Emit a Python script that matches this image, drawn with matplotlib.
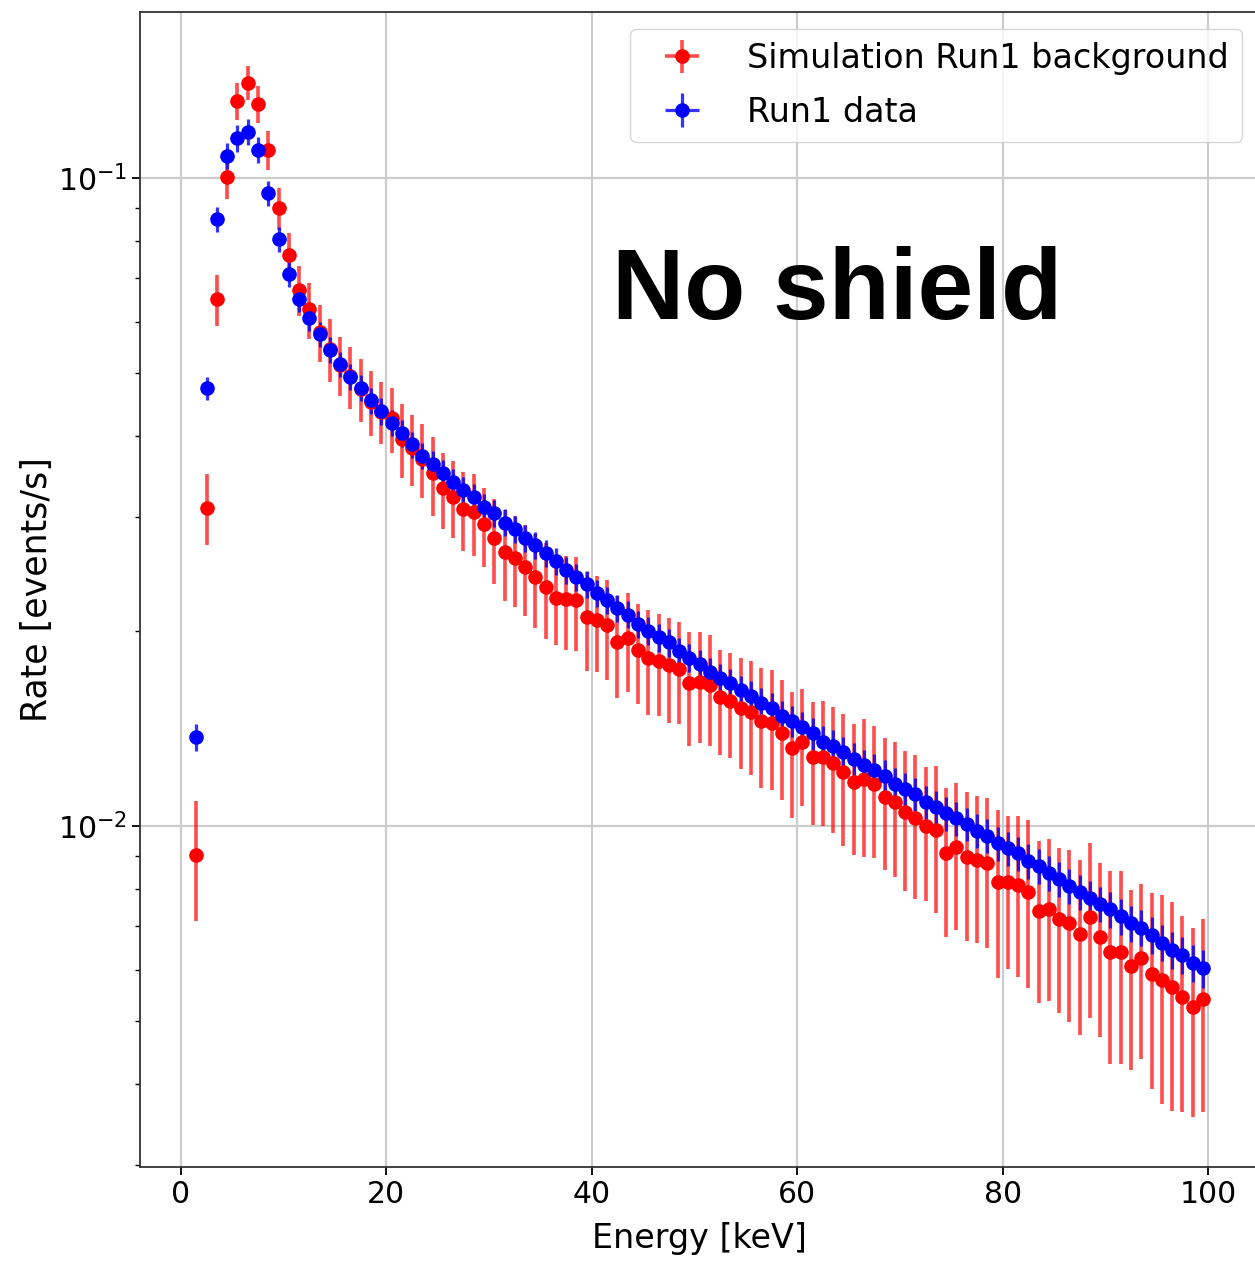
import numpy as np
import matplotlib
matplotlib.use("Agg")
import matplotlib.pyplot as plt

# bin centres [keV]
energy = np.arange(1.5, 100.0, 1.0)

# Run1 data (blue)
data_rate = [0.01372, 0.0474, 0.0864, 0.1081, 0.1153, 0.1178, 0.1105, 0.0948, 0.0805, 0.0711,
             0.0651, 0.0608, 0.0574, 0.0543, 0.0516, 0.0493, 0.0474, 0.0454, 0.0437, 0.0419,
             0.0404, 0.0388, 0.0373, 0.0362, 0.0351, 0.0340, 0.0330, 0.0322, 0.0311, 0.0304,
             0.0294, 0.0287, 0.0278, 0.0271, 0.0264, 0.0256, 0.0248, 0.0242, 0.0236, 0.0229,
             0.0223, 0.0217, 0.0212, 0.0205, 0.0200, 0.01955, 0.0192, 0.0186, 0.0182, 0.0178,
             0.0173, 0.0169, 0.0166, 0.0162, 0.0159, 0.0155, 0.0152, 0.0148, 0.01454, 0.0142,
             0.0139, 0.0135, 0.0133, 0.0130, 0.0127, 0.0124, 0.0122, 0.01195, 0.0116, 0.0114,
             0.0112, 0.0109, 0.0107, 0.01046, 0.01028, 0.01007, 0.00983, 0.00966, 0.00940, 0.00924,
             0.00908, 0.00884, 0.00868, 0.00847, 0.00829, 0.00808, 0.00792, 0.00774, 0.00758, 0.00744,
             0.00726, 0.00708, 0.00697, 0.00679, 0.00661, 0.00644, 0.00632, 0.00615, 0.00603]

# relative errors of the data points
data_relerr = [0.047, 0.042, 0.044, 0.046, 0.047, 0.047, 0.046, 0.045, 0.045, 0.045,
               0.045, 0.045, 0.045, 0.046, 0.046, 0.046, 0.046, 0.046, 0.047, 0.047,
               0.047, 0.047, 0.047, 0.047, 0.047, 0.047, 0.047, 0.047, 0.048, 0.048,
               0.048, 0.048, 0.048, 0.048, 0.048, 0.048, 0.048, 0.048, 0.048, 0.048,
               0.048, 0.048, 0.048, 0.049, 0.049, 0.050, 0.050, 0.050, 0.051, 0.051,
               0.052, 0.052, 0.053, 0.053, 0.054, 0.054, 0.055, 0.055, 0.055, 0.056,
               0.056, 0.056, 0.057, 0.057, 0.057, 0.058, 0.058, 0.058, 0.058, 0.059,
               0.059, 0.059, 0.059, 0.060, 0.060, 0.060, 0.060, 0.061, 0.061, 0.061,
               0.061, 0.062, 0.062, 0.062, 0.062, 0.062, 0.062, 0.063, 0.063, 0.063,
               0.064, 0.064, 0.064, 0.065, 0.065, 0.065, 0.066, 0.066, 0.066]

# Simulation Run1 background (red)
sim_rate = [0.00902, 0.0310, 0.0650, 0.1002, 0.1315, 0.1403, 0.1301, 0.1105, 0.0898, 0.0761,
            0.0672, 0.0627, 0.0578, 0.0545, 0.0515, 0.0495, 0.0473, 0.0452, 0.0436, 0.0426,
            0.0396, 0.0383, 0.0369, 0.0350, 0.0332, 0.0322, 0.0309, 0.0305, 0.0292, 0.0278,
            0.0265, 0.0259, 0.0251, 0.0242, 0.0234, 0.0225, 0.0224, 0.0223, 0.0210, 0.0208,
            0.0204, 0.0192, 0.0195, 0.0187, 0.0182, 0.0180, 0.0177, 0.0175, 0.0166, 0.0167,
            0.0165, 0.0158, 0.0156, 0.0152, 0.0150, 0.0145, 0.0144, 0.0139, 0.0132, 0.0135,
            0.0128, 0.0128, 0.0125, 0.0121, 0.0117, 0.0118, 0.0116, 0.0111, 0.0109, 0.0105,
            0.0103, 0.0100, 0.00986, 0.00910, 0.00929, 0.00897, 0.00886, 0.00876, 0.00820, 0.00820,
            0.00811, 0.00792, 0.00740, 0.00745, 0.00719, 0.00708, 0.00681, 0.00723, 0.00675, 0.00640,
            0.00640, 0.00609, 0.00625, 0.00591, 0.00578, 0.00564, 0.00544, 0.00526, 0.00540]

sim_relerr = [0.21, 0.125, 0.09, 0.075, 0.065, 0.06, 0.065, 0.07, 0.075, 0.08,
              0.09, 0.10, 0.10, 0.11, 0.105, 0.11, 0.11, 0.115, 0.11, 0.115,
              0.13, 0.125, 0.13, 0.14, 0.135, 0.135, 0.14, 0.145, 0.14, 0.15,
              0.16, 0.16, 0.16, 0.165, 0.17, 0.155, 0.165, 0.165, 0.175, 0.17,
              0.175, 0.18, 0.175, 0.175, 0.185, 0.18, 0.185, 0.18, 0.20, 0.195,
              0.195, 0.185, 0.185, 0.195, 0.20, 0.21, 0.21, 0.21, 0.22, 0.205,
              0.215, 0.22, 0.22, 0.23, 0.23, 0.24, 0.23, 0.23, 0.235, 0.245,
              0.25, 0.235, 0.255, 0.26, 0.255, 0.26, 0.255, 0.26, 0.29, 0.265,
              0.28, 0.29, 0.28, 0.28, 0.285, 0.295, 0.30, 0.30, 0.30, 0.33,
              0.33, 0.31, 0.30, 0.335, 0.355, 0.355, 0.335, 0.325, 0.33]

data_rate = np.array(data_rate)
sim_rate = np.array(sim_rate)
data_err = data_rate * np.array(data_relerr)
sim_err = sim_rate * np.array(sim_relerr)

fig = plt.figure(figsize=(12.55, 12.63), dpi=100)
ax = fig.add_axes([0.1119, 0.076, 0.8912, 0.9145])

e1 = ax.errorbar(energy, sim_rate, xerr=0.3, yerr=sim_err, fmt='o', color='red',
                 markersize=9.5, elinewidth=2.6, label='Simulation Run1 background')
e2 = ax.errorbar(energy, data_rate, xerr=0.3, yerr=data_err, fmt='o', color='blue',
                 markersize=9.5, elinewidth=2.3, label='Run1 data')
for c in e1[2]:
    c.set_alpha(0.7)
for c in e2[2]:
    c.set_alpha(0.8)

ax.set_yscale('log')
ax.set_xlim(-3.95, 104.95)
ax.set_ylim(0.002977, 0.1804)
ax.grid(True, which='major', color='#cccccc', linewidth=1.6)
ax.set_axisbelow(True)

ax.tick_params(axis='both', which='major', labelsize=21.5, length=6, width=1.3)
ax.tick_params(axis='y', which='minor', length=3.5, width=1.0)
for s in ax.spines.values():
    s.set_linewidth(1.3)
    s.set_color('#333333')

ax.set_xlabel('Energy [keV]', fontsize=24, labelpad=9)
ax.set_ylabel('Rate [events/s]', fontsize=25, labelpad=3)

ax.legend(loc='upper right', fontsize=24, framealpha=0.8, handlelength=2.3,
          labelspacing=0.62)

ax.text(42, 0.0605, 'No shield', fontsize=72, fontweight='bold',
        family='Liberation Sans', va='baseline', ha='left')

fig.savefig('out.png', dpi=100)
